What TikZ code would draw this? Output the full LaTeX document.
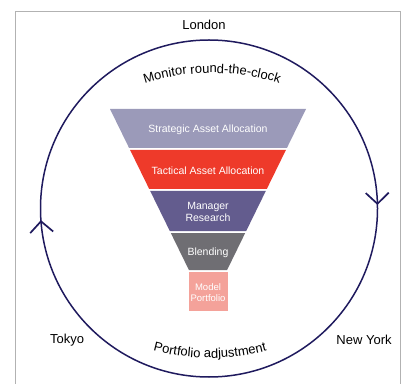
\documentclass[tikz,border=0pt]{standalone}
\usepackage{fontspec}
\setmainfont{Liberation Sans}
\usetikzlibrary{arrows.meta,decorations.markings,decorations.text}
\definecolor{cyclenavy}{RGB}{31,26,94}
\definecolor{framegray}{RGB}{178,178,178}
\definecolor{strategicgray}{RGB}{155,154,185}
\definecolor{tacticalred}{RGB}{238,58,42}
\definecolor{managerpurple}{RGB}{99,92,142}
\definecolor{blendgray}{RGB}{111,110,115}
\definecolor{modelpink}{RGB}{244,162,154}

\begin{document}
\begin{tikzpicture}[x=1pt, y=1pt,
    city/.style={font=\fontsize{13}{15}\selectfont},
    bandtext/.style={text=white, font=\fontsize{10.5}{11.7}\selectfont, align=center, inner sep=0pt},
    loopline/.style={draw=cyclenavy, line width=1.5pt}
]

\useasboundingbox (0,0) rectangle (409,383);

% Frame (open at the bottom)
\draw[framegray, line width=0.8pt] (15,-5) |- (400.5,372) -- (400.5,-5);

% Clockwise cycle
\draw[loopline, postaction={decorate}, decoration={markings,
    mark=at position 0.2467 with {\arrow[cyclenavy, line width=1.7pt]{Straight Barb[length=11pt, width=23pt]}},
    mark=at position 0.739 with {\arrow[cyclenavy, line width=1.7pt]{Straight Barb[length=11pt, width=23pt]}}}]
    (209,343) arc[start angle=90, end angle=-270, radius=168.5pt];

% Cities
\node[city] (london) at (204,358) {London};
\node[city] (tokyo) at (67,43) {Tokyo};
\node[city] (newyork) at (364,43) {New York};

% Curved captions
\path[decorate, decoration={text along path, text align=center,
    text={|\fontsize{13}{15}\selectfont|Monitor round-the-clock}}]
    (212,90) ++(118:220pt) arc[start angle=118, end angle=62, radius=220pt];
\path[decorate, decoration={text along path, text align=center,
    text={|\fontsize{13}{15}\selectfont|Portfolio adjustment}}]
    (210,245) ++(242:220pt) arc[start angle=242, end angle=298, radius=220pt];

% Funnel
\fill[strategicgray] (110,274) -- (306,274) -- (286.9,235) -- (129.1,235) -- cycle;
\node[bandtext] (strategic) at (208,253.5) {Strategic Asset Allocation};

\fill[tacticalred] (130.1,233) -- (285.9,233) -- (266.8,194) -- (149.2,194) -- cycle;
\node[bandtext] (tactical) at (208,212.5) {Tactical Asset Allocation};

\fill[managerpurple] (150.2,192) -- (265.8,192) -- (246.2,152) -- (169.8,152) -- cycle;
\node[bandtext] (manager) at (208,171) {Manager\\Research};

\fill[blendgray] (170.8,150) -- (245.2,150) -- (227.1,113) -- (188.9,113) -- cycle;
\node[bandtext] (blending) at (208,130.5) {Blending};

\fill[modelpink] (189,111) rectangle (227.5,72);
\node[bandtext, font=\fontsize{9.5}{10.7}\selectfont] (model) at (208,90.5) {Model\\Portfolio};

\end{tikzpicture}
\end{document}
